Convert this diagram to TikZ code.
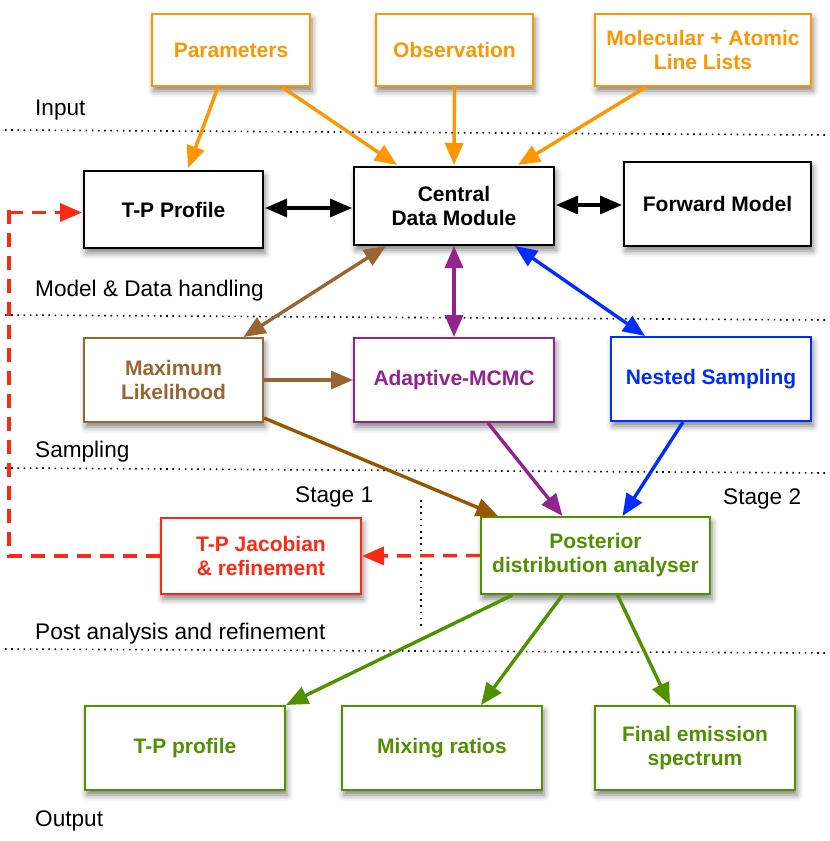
\documentclass[tikz,border=0pt]{standalone}
\usepackage{fontspec}
\setmainfont{Liberation Sans}
\usetikzlibrary{arrows.meta,shadows.blur,calc}
\definecolor{corange}{RGB}{255,150,0}
\definecolor{cbrown}{RGB}{153,102,51}
\definecolor{cdbrown}{RGB}{153,85,0}
\definecolor{cpurple}{RGB}{146,35,143}
\definecolor{cblue}{RGB}{0,45,255}
\definecolor{cgreen}{RGB}{80,145,0}
\definecolor{cred}{RGB}{255,40,20}
\tikzset{
  box/.style={draw, fill=white, line width=2pt, inner sep=0pt, align=center,
    font=\fontsize{21}{24}\selectfont\bfseries,
    blur shadow={shadow xshift=2pt, shadow yshift=-5pt, shadow blur radius=6pt, shadow opacity=50}},
  lbl/.style={anchor=base west, inner sep=0pt, font=\fontsize{22.6}{26}\selectfont},
  sep/.style={line width=1.6pt, dash pattern=on 1.6pt off 4.6pt},
  arr/.style={line width=3.4pt, -{Triangle[length=22pt,width=18pt]}},
  darr/.style={line width=3.4pt, {Triangle[length=22pt,width=18pt]}-{Triangle[length=22pt,width=18pt]}},
}
\begin{document}
\begin{tikzpicture}[x=1pt,y=-1pt]
\useasboundingbox (0,0) rectangle (830,841);
% separators
\draw[sep] (5,130) -- (828,135);
\draw[sep] (5,315) -- (828,320);
\draw[sep] (5,468) -- (828,473);
\draw[sep] (5,649) -- (828,653);
\draw[sep] (421,500) -- (421,626);
% labels
\node[lbl] (lin) at (35,115) {Input};
\node[lbl] (lmd) at (35,296) {Model \& Data handling};
\node[lbl] (lsa) at (35,457) {Sampling};
\node[lbl] (ls1) at (295,502) {Stage 1};
\node[lbl] (ls2) at (723,504) {Stage 2};
\node[lbl] (lpa) at (35,639) {Post analysis and refinement};
\node[lbl] (lou) at (35,826) {Output};
% boxes
\node[box, draw=corange, text=corange, minimum width=158, minimum height=72] (par) at (231,50) {Parameters};
\node[box, draw=corange, text=corange, minimum width=157, minimum height=72] (obs) at (454.5,50) {Observation};
\node[box, draw=corange, text=corange, minimum width=216, minimum height=72] (mol) at (703,50) {Molecular + Atomic\\Line Lists};
\node[box, minimum width=179, minimum height=77] (tpp) at (173.5,209.5) {T-P Profile};
\node[box, minimum width=200, minimum height=78] (cdm) at (454,206) {Central\\Data Module};
\node[box, minimum width=187, minimum height=84] (fwd) at (717.5,204) {Forward Model};
\node[box, draw=cbrown, text=cbrown, minimum width=179, minimum height=84] (ml) at (173.5,380) {Maximum\\Likelihood};
\node[box, draw=cpurple, text=cpurple, minimum width=200, minimum height=84] (mcmc) at (454,380) {Adaptive-MCMC};
\node[box, draw=cblue, text=cblue, minimum width=200, minimum height=84] (ns) at (711,379) {Nested Sampling};
\node[box, draw=cred, text=cred, minimum width=200, minimum height=76] (jac) at (261,556) {T-P Jacobian\\\& refinement};
\node[box, draw=cgreen, text=cgreen, minimum width=229, minimum height=77] (post) at (595.5,555.5) {Posterior\\distribution analyser};
\node[box, draw=cgreen, text=cgreen, minimum width=200, minimum height=84] (out1) at (185,748) {T-P profile};
\node[box, draw=cgreen, text=cgreen, minimum width=200, minimum height=84] (out2) at (442,748) {Mixing ratios};
\node[box, draw=cgreen, text=cgreen, minimum width=200, minimum height=84] (out3) at (695,748) {Final emission\\spectrum};
% input arrows
\draw[arr, corange] ([xshift=-13pt]par.south) -- ([xshift=14.5pt,yshift=2pt]tpp.north);
\draw[arr, corange] ([xshift=51pt]par.south) -- ([xshift=-57pt,yshift=1pt]cdm.north);
\draw[arr, corange] (obs.south) -- ([yshift=1pt]cdm.north);
\draw[arr, corange] ([xshift=-57pt]mol.south) -- ([xshift=64pt,yshift=1pt]cdm.north);
% model arrows
\draw[darr] ([xshift=1pt,yshift=1.5pt]tpp.east) -- ([xshift=-1pt,yshift=-2pt]cdm.west);
\draw[darr] ([xshift=1pt,yshift=1pt]cdm.east) -- ([xshift=-1pt,yshift=-1pt]fwd.west);
\draw[darr, cbrown] ([xshift=-68pt]cdm.south) -- ([xshift=70pt]ml.north);
\draw[darr, cpurple] (cdm.south) -- (mcmc.north);
\draw[darr, cblue] ([xshift=61pt]cdm.south) -- ([xshift=-66pt]ns.north);
% sampling arrows
\draw[arr, cbrown] (ml.east) -- (mcmc.west);
\draw[arr, cdbrown] ([yshift=5pt]ml.south east) -- ([xshift=-97.5pt]post.north);
\draw[arr, cpurple] ([xshift=34pt]mcmc.south) -- ([xshift=-33pt]post.north);
\draw[arr, cblue] ([xshift=-28pt]ns.south) -- ([xshift=27pt]post.north);
% refinement loop
\coordinate (lx) at (9,0);
\draw[arr, cred, dash pattern=on 14pt off 9pt] (post.west) -- (jac.east);
\draw[arr, cred, dash pattern=on 14pt off 9pt] (jac.west) -- (jac.west -| lx) -- (lx |- tpp.west) ++(0,3) -- ([yshift=-3pt,xshift=-1pt]tpp.west);
% output arrows
\draw[arr, cgreen] ([xshift=-83pt]post.south) -- (out1.north east);
\draw[arr, cgreen] ([xshift=-33pt]post.south) -- ([xshift=39pt]out2.north);
\draw[arr, cgreen] ([xshift=22pt]post.south) -- ([xshift=-25pt]out3.north);
\end{tikzpicture}
\end{document}
